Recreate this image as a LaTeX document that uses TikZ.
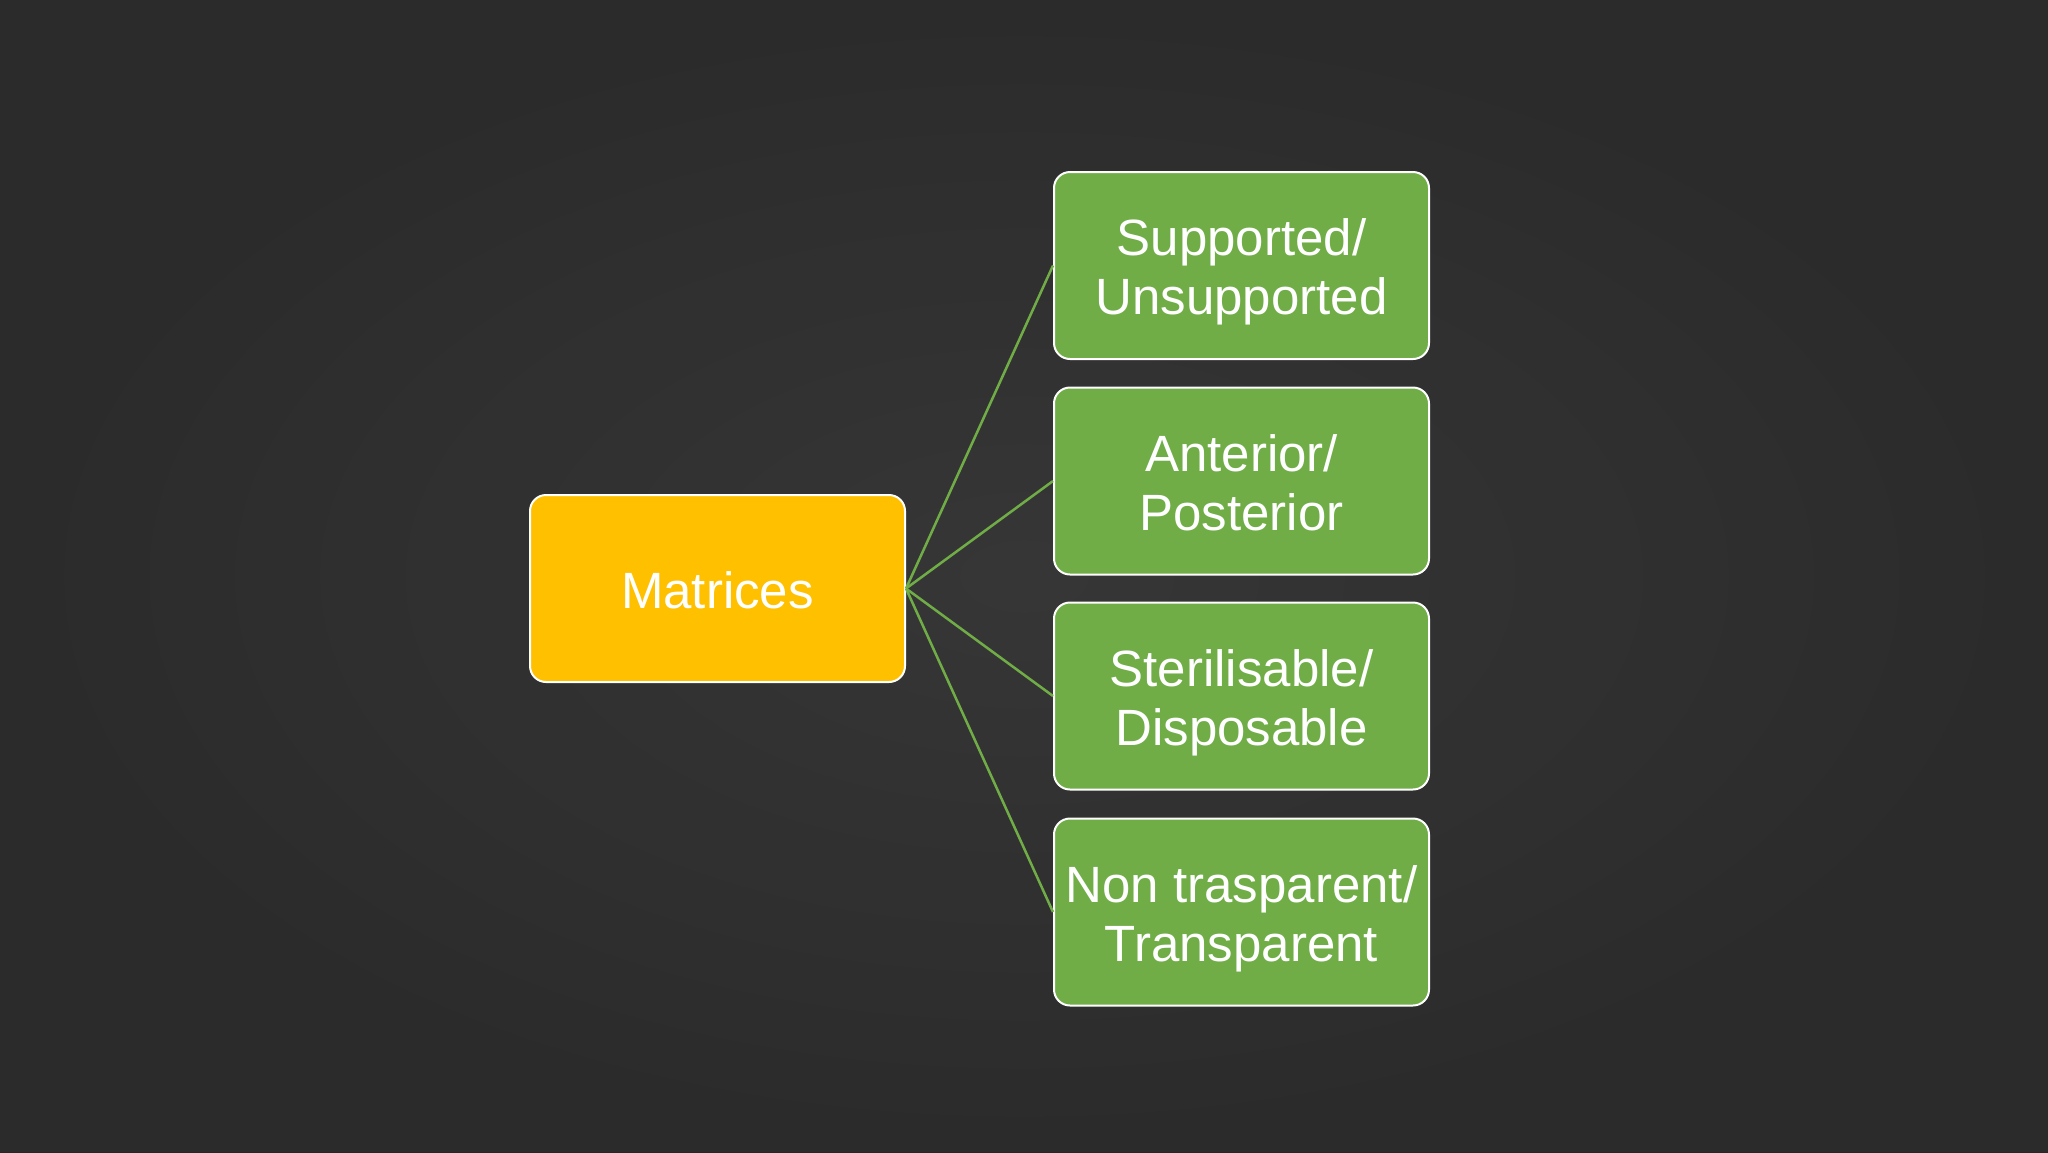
\documentclass[tikz,border=0pt]{standalone}
\usepackage{fontspec}
\setmainfont{Liberation Sans}
\definecolor{board}{HTML}{303030}
\definecolor{boardlight}{HTML}{3E3E3E}
\definecolor{boarddark}{HTML}{262626}
\definecolor{gold}{HTML}{FFC000}
\definecolor{leaf}{HTML}{70AD47}
\newcommand{\twolines}[2]{\raisebox{-8pt}[\height][\depth]{\begin{tabular}{@{}c@{}}#1\\#2\end{tabular}}}
\tikzset{
  box/.style={draw=white, line width=2pt, rounded corners=16pt, minimum width=375pt, minimum height=187pt, inner sep=0pt, text=white, align=center, font=\fontsize{51}{59}\selectfont},
  rootbox/.style={box, fill=gold},
  leafbox/.style={box, fill=leaf},
  link/.style={draw=leaf, line width=2.5pt}
}
\begin{document}
\begin{tikzpicture}[x=1pt,y=-1pt]
\useasboundingbox (0,0) rectangle (2048,1152);
\shade[inner color=boardlight, outer color=boarddark] (0,0) rectangle (2048,1152);
\fill[board, opacity=0.5] (0,0) rectangle (2048,1152);
\node[rootbox] (m) at (717.5,588.5) {\raisebox{-2pt}[\height][\depth]{Matrices}};
\node[leafbox] (g1) at (1241.5,265.5) {\twolines{Supported/}{Unsupported}};
\node[leafbox] (g2) at (1241.5,481) {\twolines{Anterior/}{Posterior}};
\node[leafbox] (g3) at (1241.5,696) {\twolines{Sterilisable/}{Disposable}};
\node[leafbox] (g4) at (1241.5,912) {\twolines{Non trasparent/}{Transparent}};
\foreach \g in {g1,g2,g3,g4} \draw[link] (m.east) -- (\g.west);
\end{tikzpicture}
\end{document}
